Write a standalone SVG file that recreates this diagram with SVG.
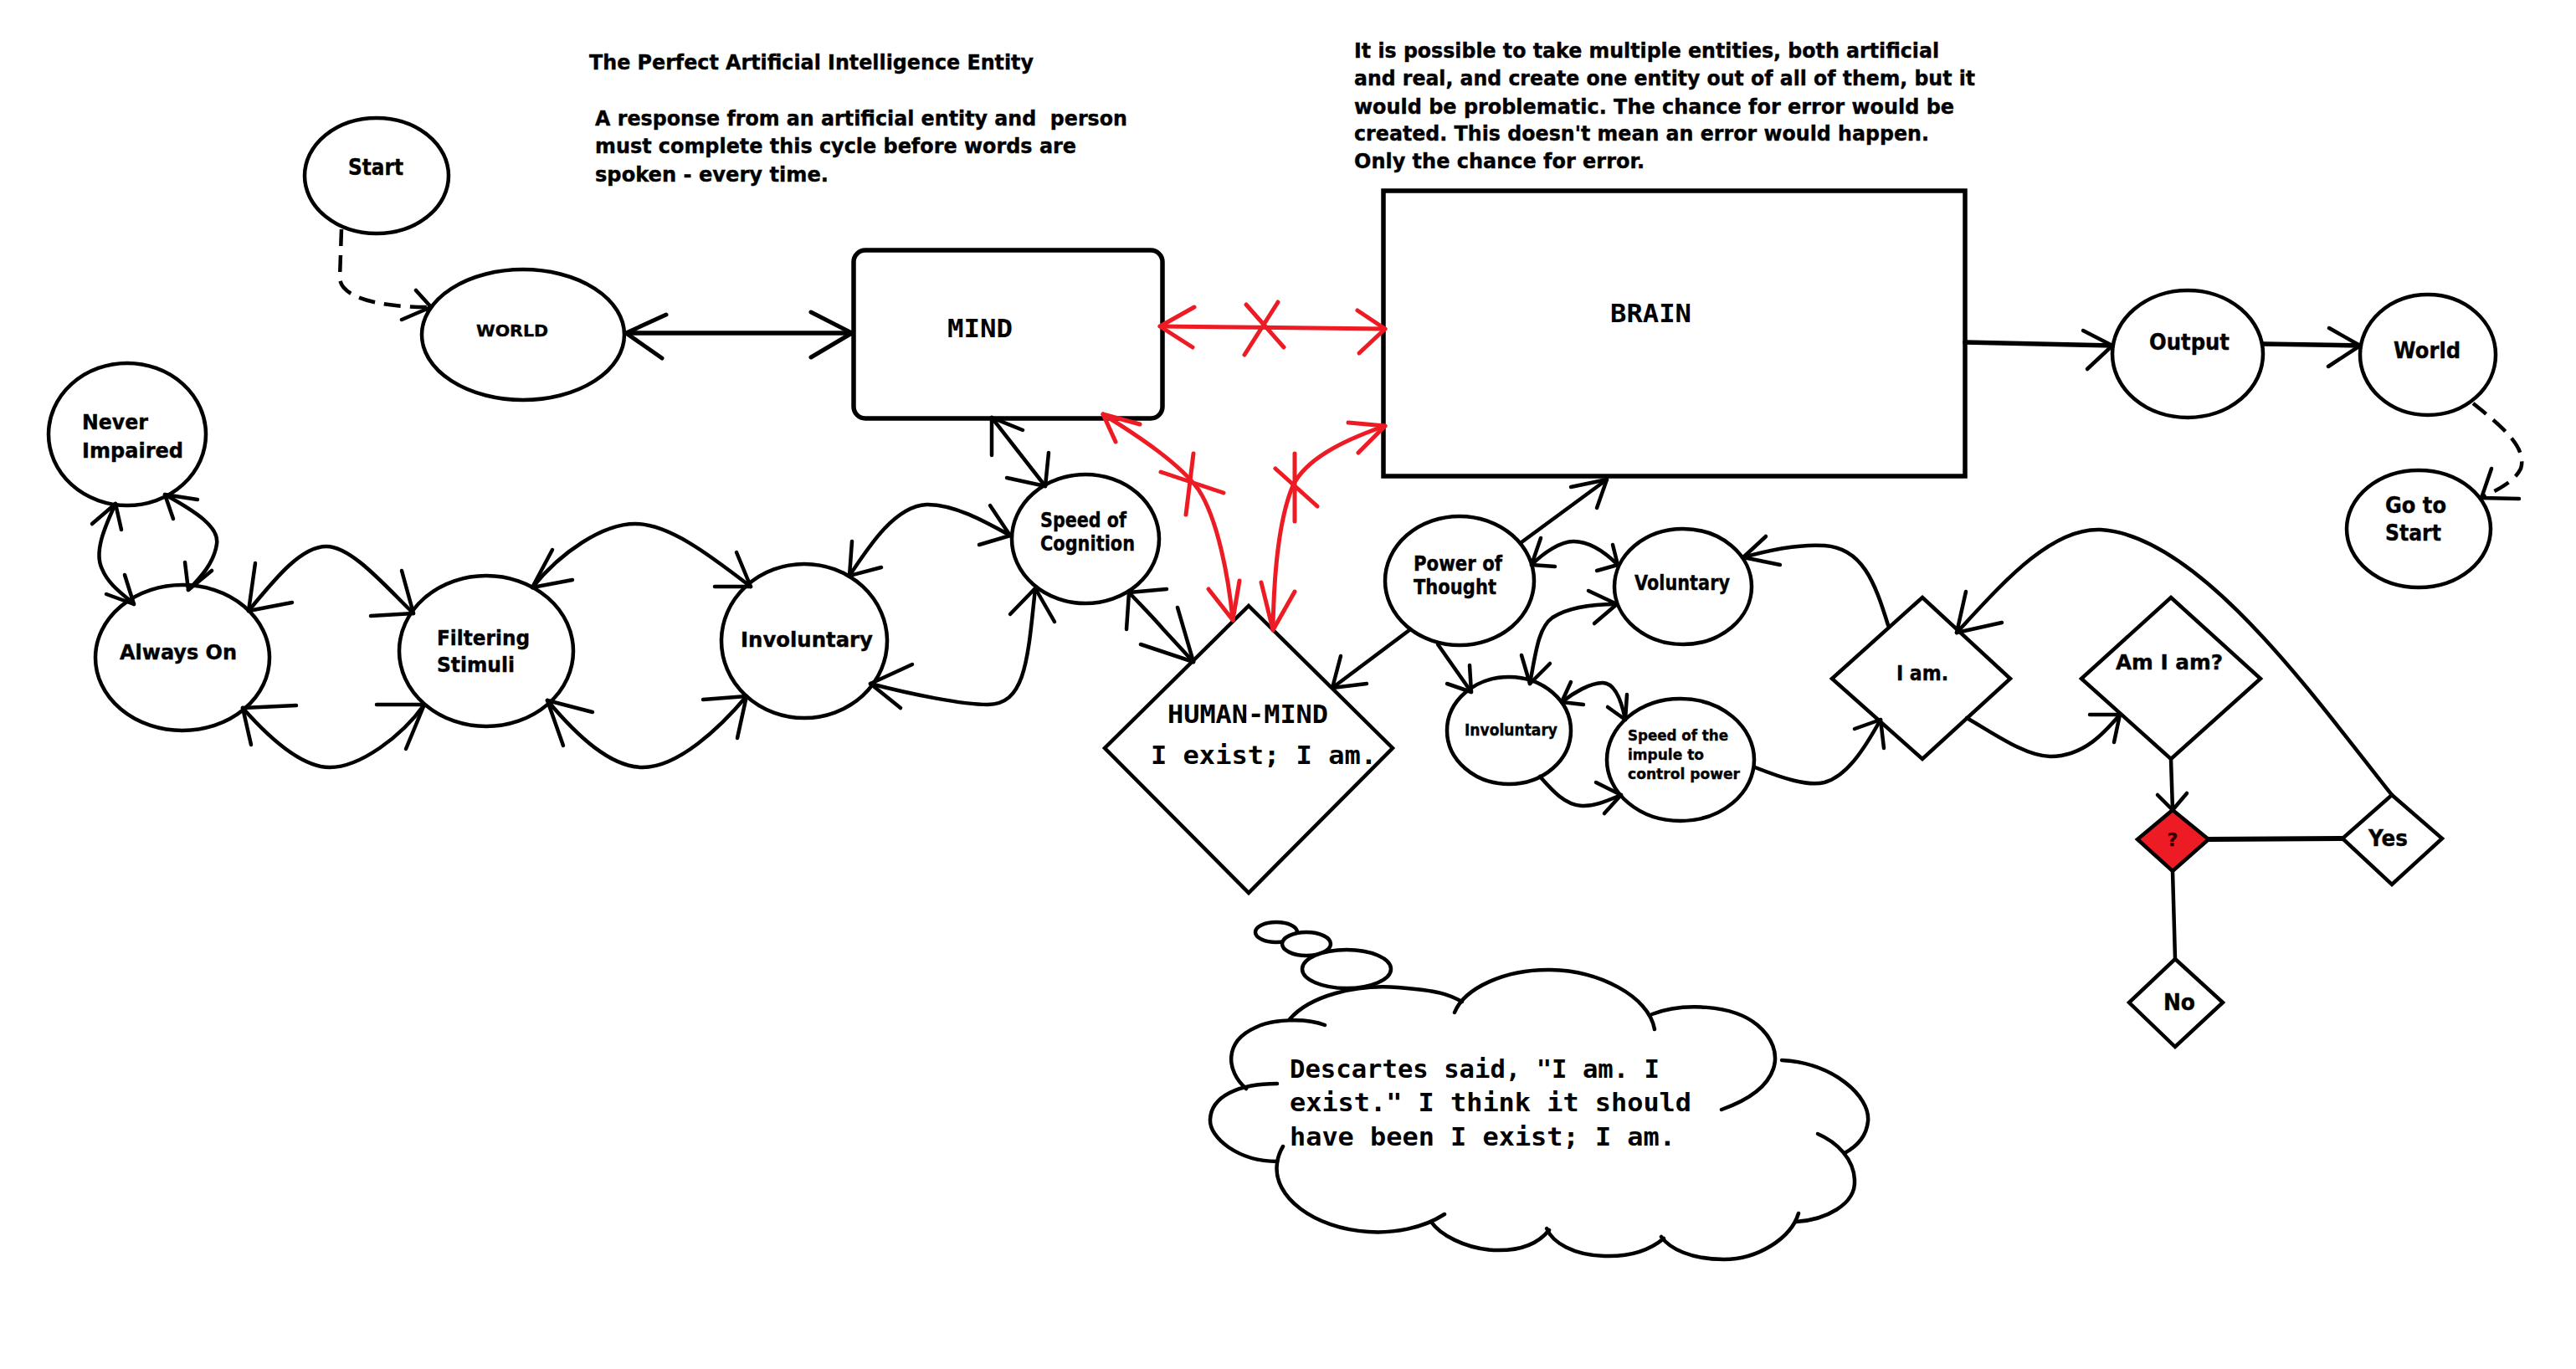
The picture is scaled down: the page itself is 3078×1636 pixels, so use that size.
<svg xmlns="http://www.w3.org/2000/svg" width="3078" height="1636" viewBox="0 0 3078 1636">
<style>
.bg{fill:#fff}
.n{fill:#fff;stroke:#000;stroke-width:4.5}
.box{fill:#fff;stroke:#000;stroke-width:5.5}
.c{fill:none;stroke:#000;stroke-width:4.5;stroke-linecap:round;stroke-linejoin:round}
.th{stroke-width:6}
.r{fill:none;stroke:#ED1C24;stroke-width:5;stroke-linecap:round;stroke-linejoin:round}
.d{stroke-dasharray:20 11;stroke-linecap:butt}
.t{font-family:"DejaVu Sans",Verdana,sans-serif;font-weight:bold;fill:#000;stroke:#000;stroke-width:0.4;font-size:25px}
.m{font-family:"DejaVu Sans Mono","Liberation Mono",monospace;fill:#000;font-size:30px}
.mb{font-weight:bold}
</style>
<rect class="bg" x="0" y="0" width="3078" height="1636"/>

<g id="notes">
<text class="t" x="704" y="83" textLength="531" lengthAdjust="spacingAndGlyphs">The Perfect Artificial Intelligence Entity</text>
<text class="t" x="711" y="150" textLength="636" lengthAdjust="spacingAndGlyphs" xml:space="preserve">A response from an artificial entity and  person</text>
<text class="t" x="711" y="183" textLength="575" lengthAdjust="spacingAndGlyphs">must complete this cycle before words are</text>
<text class="t" x="711" y="217" textLength="279" lengthAdjust="spacingAndGlyphs">spoken - every time.</text>
<text class="t" x="1618" y="69" textLength="699" lengthAdjust="spacingAndGlyphs">It is possible to take multiple entities, both artificial</text>
<text class="t" x="1618" y="102" textLength="742" lengthAdjust="spacingAndGlyphs">and real, and create one entity out of all of them, but it</text>
<text class="t" x="1618" y="136" textLength="717" lengthAdjust="spacingAndGlyphs">would be problematic. The chance for error would be</text>
<text class="t" x="1618" y="168" textLength="687" lengthAdjust="spacingAndGlyphs">created. This doesn't mean an error would happen.</text>
<text class="t" x="1618" y="201" textLength="347" lengthAdjust="spacingAndGlyphs">Only the chance for error.</text>
</g>

<g id="node-start">
<ellipse class="n" cx="450" cy="210" rx="86" ry="69"/>
<text class="t" x="416" y="209" style="font-size:26px" textLength="66" lengthAdjust="spacingAndGlyphs">Start</text>
</g>
<g id="node-world-top">
<ellipse class="n" cx="625" cy="400" rx="121" ry="78"/>
<text class="t" x="569" y="402" style="font-size:20px" textLength="86" lengthAdjust="spacingAndGlyphs">WORLD</text>
</g>
<g id="node-mind">
<rect class="box" x="1020" y="299" width="369" height="201" rx="14"/>
<text class="m mb" x="1132" y="403" textLength="78" lengthAdjust="spacingAndGlyphs">MIND</text>
</g>
<g id="node-brain">
<rect class="box" x="1653" y="228" width="695" height="341"/>
<text class="m mb" x="1924" y="385" textLength="97" lengthAdjust="spacingAndGlyphs">BRAIN</text>
</g>
<g id="node-output">
<ellipse class="n" cx="2614" cy="423" rx="90" ry="76"/>
<text class="t" x="2568" y="418" style="font-size:27px" textLength="96" lengthAdjust="spacingAndGlyphs">Output</text>
</g>
<g id="node-world">
<ellipse class="n" cx="2901" cy="424" rx="81" ry="72"/>
<text class="t" x="2860" y="428" style="font-size:27px" textLength="80" lengthAdjust="spacingAndGlyphs">World</text>
</g>
<g id="node-goto-start">
<ellipse class="n" cx="2890" cy="632" rx="86" ry="70"/>
<text class="t" x="2850" y="613" style="font-size:27px" textLength="73" lengthAdjust="spacingAndGlyphs">Go to</text>
<text class="t" x="2850" y="646" style="font-size:27px" textLength="67" lengthAdjust="spacingAndGlyphs">Start</text>
</g>
<g id="node-never-impaired">
<ellipse class="n" cx="152" cy="519" rx="94" ry="85"/>
<text class="t" x="98" y="513" textLength="79" lengthAdjust="spacingAndGlyphs">Never</text>
<text class="t" x="98" y="547" textLength="121" lengthAdjust="spacingAndGlyphs">Impaired</text>
</g>
<g id="node-always-on">
<ellipse class="n" cx="218" cy="786" rx="104" ry="87"/>
<text class="t" x="143" y="788" textLength="140" lengthAdjust="spacingAndGlyphs">Always On</text>
</g>
<g id="node-filtering">
<ellipse class="n" cx="581" cy="778" rx="104" ry="90"/>
<text class="t" x="522" y="771" textLength="111" lengthAdjust="spacingAndGlyphs">Filtering</text>
<text class="t" x="522" y="803" textLength="93" lengthAdjust="spacingAndGlyphs">Stimuli</text>
</g>
<g id="node-involuntary">
<ellipse class="n" cx="961" cy="766" rx="99" ry="92"/>
<text class="t" x="885" y="773" textLength="158" lengthAdjust="spacingAndGlyphs">Involuntary</text>
</g>
<g id="node-speed-cognition">
<ellipse class="n" cx="1297" cy="644" rx="88" ry="77"/>
<text class="t" x="1243" y="630" textLength="103" lengthAdjust="spacingAndGlyphs">Speed of</text>
<text class="t" x="1243" y="658" textLength="113" lengthAdjust="spacingAndGlyphs">Cognition</text>
</g>
<g id="node-human-mind">
<polygon class="n" points="1492,724 1664,894 1492,1067 1320,894"/>
<text class="m mb" x="1395" y="864" textLength="192" lengthAdjust="spacingAndGlyphs">HUMAN-MIND</text>
<text class="m mb" x="1375" y="913" textLength="270" lengthAdjust="spacingAndGlyphs">I exist; I am.</text>
</g>
<g id="node-power">
<ellipse class="n" cx="1744" cy="694" rx="89" ry="77"/>
<text class="t" x="1689" y="682" textLength="106" lengthAdjust="spacingAndGlyphs">Power of</text>
<text class="t" x="1689" y="710" textLength="99" lengthAdjust="spacingAndGlyphs">Thought</text>
</g>
<g id="node-voluntary">
<ellipse class="n" cx="2011" cy="701" rx="82" ry="69"/>
<text class="t" x="1953" y="705" textLength="114" lengthAdjust="spacingAndGlyphs">Voluntary</text>
</g>
<g id="node-involuntary-2">
<ellipse class="n" cx="1803" cy="873" rx="74" ry="64"/>
<text class="t" x="1750" y="879" style="font-size:19px" textLength="111" lengthAdjust="spacingAndGlyphs">Involuntary</text>
</g>
<g id="node-speed-impulse">
<ellipse class="n" cx="2008" cy="908" rx="88" ry="73"/>
<text class="t" x="1945" y="885" style="font-size:18px" textLength="120" lengthAdjust="spacingAndGlyphs">Speed of the</text>
<text class="t" x="1945" y="908" style="font-size:18px" textLength="91" lengthAdjust="spacingAndGlyphs">impule to</text>
<text class="t" x="1945" y="931" style="font-size:18px" textLength="134" lengthAdjust="spacingAndGlyphs">control power</text>
</g>
<g id="node-i-am">
<polygon class="n" points="2297,714 2402,811 2297,907 2189,811"/>
<text class="t" x="2266" y="813" textLength="62" lengthAdjust="spacingAndGlyphs">I am.</text>
</g>
<g id="node-am-i-am">
<polygon class="n" points="2594,714 2701,811 2594,907 2487,811"/>
<text class="t" x="2528" y="800" style="font-size:25px" textLength="128" lengthAdjust="spacingAndGlyphs">Am I am?</text>
</g>
<g id="node-question">
<polygon points="2596,968 2639,1003 2596,1041 2554,1003" fill="#ED1C24" stroke="#000" stroke-width="4.5"/>
<text class="t" x="2596" y="1011" text-anchor="middle" style="font-size:22px;fill:#300;stroke:#300">?</text>
</g>
<g id="node-yes">
<polygon class="n" points="2858,950 2918,1002 2858,1057 2799,1002"/>
<text class="t" x="2830" y="1011" style="font-size:27px" textLength="47" lengthAdjust="spacingAndGlyphs">Yes</text>
</g>
<g id="node-no">
<polygon class="n" points="2599,1146 2656,1198 2599,1251 2544,1198"/>
<text class="t" x="2585" y="1207" style="font-size:27px" textLength="38" lengthAdjust="spacingAndGlyphs">No</text>
</g>

<g id="thought-bubble">
<ellipse class="n" cx="1525" cy="1114" rx="25" ry="12"/>
<ellipse class="n" cx="1561" cy="1128" rx="29" ry="14"/>
<ellipse class="n" cx="1609" cy="1158" rx="53" ry="23"/>
<path class="c" d="M 1541 1218 C 1565 1190, 1620 1176, 1670 1180 S 1730 1188, 1747 1197"/>
<path class="c" d="M 1738 1210 C 1750 1180, 1800 1158, 1853 1159 C 1910 1160, 1970 1190, 1977 1230"/>
<path class="c" d="M 1974 1212 C 2010 1198, 2070 1200, 2100 1225 C 2135 1255, 2130 1300, 2057 1326"/>
<path class="c" d="M 2129 1267 C 2190 1270, 2235 1310, 2232 1340 C 2230 1360, 2215 1372, 2204 1378"/>
<path class="c" d="M 2172 1355 C 2195 1365, 2215 1385, 2216 1410 C 2218 1440, 2180 1458, 2146 1460"/>
<path class="c" d="M 2149 1450 C 2140 1480, 2100 1505, 2060 1505 C 2020 1505, 1995 1492, 1985 1478"/>
<path class="c" d="M 1988 1480 C 1970 1495, 1945 1502, 1917 1501 C 1880 1500, 1855 1485, 1848 1468"/>
<path class="c" d="M 1851 1470 C 1835 1490, 1810 1495, 1785 1494 C 1750 1492, 1720 1475, 1710 1460"/>
<path class="c" d="M 1726 1451 C 1700 1468, 1665 1474, 1635 1472 C 1570 1468, 1520 1430, 1526 1390 C 1527 1382, 1530 1375, 1533 1370"/>
<path class="c" d="M 1526 1388 C 1480 1388, 1445 1360, 1446 1338 C 1447 1310, 1480 1295, 1526 1295"/>
<path class="c" d="M 1489 1301 C 1465 1280, 1462 1245, 1500 1228 C 1520 1218, 1560 1216, 1583 1225"/>
<text class="m mb" x="1541" y="1288" textLength="442" lengthAdjust="spacingAndGlyphs">Descartes said, "I am. I</text>
<text class="m mb" x="1541" y="1328" textLength="480" lengthAdjust="spacingAndGlyphs">exist." I think it should</text>
<text class="m mb" x="1541" y="1369" textLength="461" lengthAdjust="spacingAndGlyphs">have been I exist; I am.</text>
</g>

<g id="connectors">
<!-- Start -> WORLD (dashed) -->
<path class="c d" d="M 408 274 L 406 333 C 408 355, 450 367, 513 367"/>
<polyline class="c" points="497,347 515,367 480,382"/>
<!-- WORLD <-> MIND -->
<path class="c" style="stroke-width:5.5" d="M 748 398 L 1018 398"/>
<polyline class="c" style="stroke-width:5" points="796,376 748,398 791,428"/>
<polyline class="c" style="stroke-width:5" points="969,373 1018,398 969,427"/>
<!-- MIND <-> BRAIN (red, crossed) -->
<path class="r" d="M 1386 390 L 1655 393"/>
<polyline class="r" points="1427,367 1386,390 1425,415"/>
<polyline class="r" points="1622,371 1655,393 1624,422"/>
<path class="r" d="M 1489 364 L 1534 415 M 1527 361 L 1487 424"/>
<!-- MIND <-> HUMAN-MIND (red, crossed) -->
<path class="r" d="M 1318 495 C 1365 524, 1410 555, 1432 585 C 1455 620, 1468 690, 1473 741"/>
<polyline class="r" points="1362,507 1318,495 1333,528"/>
<polyline class="r" points="1444,704 1473,741 1481,694"/>
<path class="r" d="M 1426 542 L 1417 615 M 1387 564 L 1462 589"/>
<!-- BRAIN <-> HUMAN-MIND (red, crossed) -->
<path class="r" d="M 1655 509 C 1600 528, 1560 550, 1545 580 C 1528 620, 1522 690, 1521 753"/>
<polyline class="r" points="1611,505 1655,509 1623,541"/>
<polyline class="r" points="1507,696 1521,753 1547,707"/>
<path class="r" d="M 1547 542 L 1547 623 M 1524 560 L 1574 605"/>
<!-- MIND <-> Speed of Cognition -->
<path class="c" d="M 1185 499 L 1249 581"/>
<polyline class="c" points="1185,544 1185,499 1222,514"/>
<polyline class="c" points="1253,541 1249,581 1203,571"/>
<!-- Speed of Cognition <-> HUMAN-MIND -->
<path class="c" d="M 1349 708 C 1365 725, 1378 738, 1390 752 L 1426 791"/>
<polyline class="c" points="1394,704 1349,708 1346,752"/>
<polyline class="c" points="1407,726 1426,791 1363,770"/>
<!-- Involuntary <-> Speed of Cognition (upper) -->
<path class="c" d="M 1015 688 C 1040 650, 1070 605, 1107 603 C 1140 602, 1180 625, 1207 640"/>
<polyline class="c" points="1018,647 1015,688 1053,678"/>
<polyline class="c" points="1183,604 1207,640 1170,651"/>
<!-- Involuntary <-> Speed of Cognition (lower) -->
<path class="c" d="M 1040 817 C 1090 830, 1150 842, 1180 842 C 1225 842, 1228 790, 1237 703"/>
<polyline class="c" points="1090,794 1040,817 1076,846"/>
<polyline class="c" points="1207,734 1237,703 1260,743"/>
<!-- Filtering <-> Involuntary (upper) -->
<path class="c" d="M 636 702 C 670 660, 720 626, 759 626 C 800 626, 850 665, 897 701"/>
<polyline class="c" points="660,657 636,702 684,693"/>
<polyline class="c" points="880,660 897,701 854,701"/>
<!-- Filtering <-> Involuntary (lower) -->
<path class="c" d="M 654 837 C 690 880, 730 917, 768 917 C 810 917, 860 870, 892 832"/>
<polyline class="c" points="708,851 654,837 673,891"/>
<polyline class="c" points="840,836 892,832 881,882"/>
<!-- Always On <-> Filtering (upper) -->
<path class="c" d="M 297 730 C 330 690, 360 653, 390 653 C 420 653, 460 700, 494 733"/>
<polyline class="c" points="305,673 297,730 349,720"/>
<polyline class="c" points="480,682 494,733 443,736"/>
<!-- Always On <-> Filtering (lower) -->
<path class="c" d="M 290 846 C 320 880, 360 917, 394 917 C 430 917, 480 880, 507 842"/>
<polyline class="c" points="354,843 290,846 300,890"/>
<polyline class="c" points="450,842 507,842 485,895"/>
<!-- Never Impaired <-> Always On (left) -->
<path class="c" d="M 138 602 C 125 630, 112 660, 122 680 C 130 700, 150 712, 160 722"/>
<polyline class="c" points="110,626 138,602 145,633"/>
<polyline class="c" points="127,710 160,722 149,687"/>
<!-- Never Impaired <-> Always On (right) -->
<path class="c" d="M 197 591 C 235 612, 262 630, 259 650 C 256 672, 240 690, 225 705"/>
<polyline class="c" points="236,597 197,591 207,620"/>
<polyline class="c" points="221,672 225,705 253,682"/>
<!-- BRAIN -> Output -->
<path class="c" style="stroke-width:5.5" d="M 2348 409 L 2524 413"/>
<polyline class="c" points="2489,395 2524,413 2494,441"/>
<!-- Output -> World -->
<path class="c" style="stroke-width:5.5" d="M 2705 411 L 2820 413"/>
<polyline class="c" points="2783,392 2820,413 2782,438"/>
<!-- World -> Go to Start (dashed) -->
<path class="c d" d="M 2955 482 C 2990 510, 3020 535, 3012 560 C 3005 575, 2985 585, 2965 595"/>
<polyline class="c" points="2977,560 2965,595 3010,596"/>
<!-- Power of Thought -> HUMAN-MIND -->
<path class="c" d="M 1684 753 L 1592 822"/>
<polyline class="c" points="1602,784 1592,822 1633,817"/>
<!-- Power of Thought -> BRAIN -->
<path class="c" d="M 1818 648 L 1920 573"/>
<polyline class="c" points="1877,582 1920,573 1908,607"/>
<!-- Power of Thought <-> Voluntary -->
<path class="c" d="M 1830 675 C 1845 660, 1865 647, 1880 647 C 1900 647, 1920 662, 1933 675"/>
<polyline class="c" points="1841,643 1830,675 1858,677"/>
<polyline class="c" points="1927,651 1933,675 1908,682"/>
<!-- Involuntary (small) <-> Voluntary -->
<path class="c" d="M 1828 817 C 1835 780, 1838 750, 1855 738 C 1875 725, 1905 722, 1932 722"/>
<polyline class="c" points="1818,783 1828,817 1852,793"/>
<polyline class="c" points="1898,706 1932,722 1905,745"/>
<!-- Power of Thought -> Involuntary (small) -->
<path class="c" d="M 1718 770 L 1758 827"/>
<polyline class="c" points="1756,795 1758,827 1729,817"/>
<!-- Involuntary (small) <-> Speed of the impule (upper) -->
<path class="c" d="M 1866 839 C 1880 828, 1900 816, 1915 816 C 1930 816, 1938 840, 1942 860"/>
<polyline class="c" points="1877,815 1866,839 1892,842"/>
<polyline class="c" points="1944,830 1942,860 1921,845"/>
<!-- Involuntary (small) -> Speed of the impule (lower) -->
<path class="c" d="M 1840 928 C 1855 945, 1870 962, 1890 963 C 1905 964, 1920 957, 1937 950"/>
<polyline class="c" points="1907,935 1937,950 1917,972"/>
<!-- Speed of the impule -> I am. -->
<path class="c" d="M 2097 917 C 2130 930, 2160 940, 2180 935 C 2205 928, 2225 900, 2247 860"/>
<polyline class="c" points="2216,871 2247,860 2251,894"/>
<!-- I am. -> Voluntary -->
<path class="c" d="M 2256 747 C 2240 695, 2225 655, 2180 652 C 2150 650, 2115 657, 2083 666"/>
<polyline class="c" points="2110,641 2083,666 2127,675"/>
<!-- I am. -> Am I am? -->
<path class="c" d="M 2350 858 C 2380 875, 2420 904, 2450 904 C 2490 904, 2515 875, 2533 854"/>
<polyline class="c" points="2497,854 2533,854 2526,887"/>
<!-- Yes -> I am. -->
<path class="c" d="M 2858 950 C 2770 840, 2630 640, 2510 633 C 2450 630, 2390 700, 2338 756"/>
<polyline class="c" points="2349,707 2338,756 2392,744"/>
<!-- Am I am? -> ? -->
<path class="c" d="M 2594 907 L 2596 968"/>
<polyline class="c" points="2578,950 2596,968 2613,948"/>
<!-- ? - Yes -->
<path class="c th" d="M 2639 1003 L 2799 1002"/>
<!-- ? - No -->
<path class="c" d="M 2596 1041 L 2599 1146"/>
</g>
</svg>
